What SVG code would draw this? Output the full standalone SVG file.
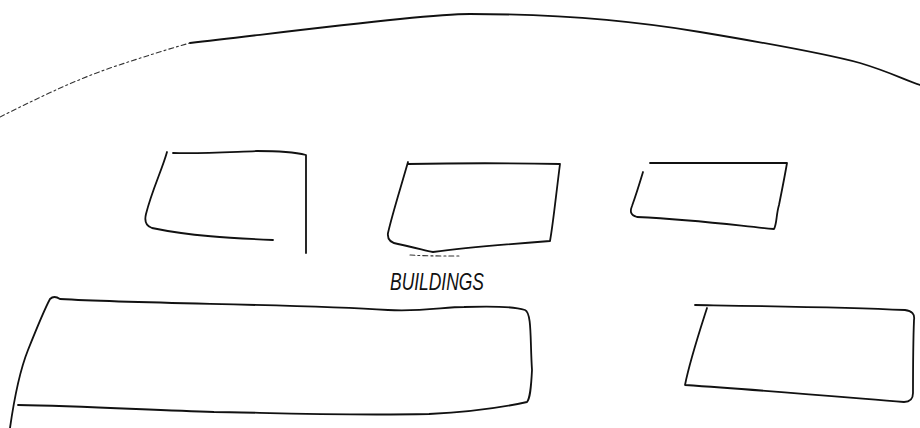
<svg xmlns="http://www.w3.org/2000/svg" width="920" height="428" viewBox="0 0 920 428">
<style>
.s{fill:none;stroke:#111;stroke-width:1.8;stroke-linecap:round;stroke-linejoin:round}
.f{fill:none;stroke:#333;stroke-width:1.1;stroke-dasharray:5 3 2 3;stroke-linecap:round}
.t{font-family:"Liberation Sans",Arial,sans-serif;font-style:italic;font-size:24px;fill:#111}
</style>
<rect width="920" height="428" fill="#fff"/>
<g id="boundary">
<path class="f" d="M0,117 C30,102 70,82 110,68 C140,58 165,50 190,43"/>
<path class="s" d="M190,43 C260,35 330,26 400,19 C430,16 450,14 470,14 C560,14 640,22 700,32 C760,42 830,55 860,63 C890,72 905,80 920,85"/>
</g>
<g id="building1">
<path class="s" d="M167,152 C162,170 152,190 146,214 C144,222 146,226 152,228 C190,236 230,238 273,240"/>
<path class="s" d="M173,153 C200,154 230,152 257,151 C280,151 298,153 306,155 C306,185 306,220 306,253"/>
</g>
<g id="building2">
<path class="s" d="M408,162 C400,190 392,215 388,233 C387,240 392,243 398,244 C412,247 424,250 433,252 C470,247 510,244 550,241 C553,225 556,195 560,164 C510,163 460,163 408,164"/>
<path class="f" d="M410,255 C425,256 440,256 460,256"/>
</g>
<g id="building3">
<path class="s" d="M650,163 C700,163 745,163 787,163 C785,175 782,190 779,205 C776,215 777,224 774,229 C740,226 700,220 637,217 C630,215 630,211 632,206 C636,195 640,182 643,172"/>
</g>
<g id="building4">
<path class="s" d="M10,428 C14,400 20,370 28,350 C36,330 44,310 50,299 C53,296 57,297 60,299 C150,304 290,304 388,310 C420,312 445,307 464,307 C490,306 515,307 525,310 C532,313 530,340 532,370 C531,390 530,398 527,402 C500,408 470,412 429,414 C330,416 250,412 214,412 C150,410 80,406 18,405"/>
</g>
<g id="building5">
<path class="s" d="M695,305 C760,306 840,307 905,310 C912,311 915,314 914,320 C913,345 913,375 913,393 C913,400 909,402 904,402 C830,396 760,390 685,385 C690,360 700,330 707,308"/>
</g>
<g id="labels">
<text class="t" x="390" y="290" textLength="94" lengthAdjust="spacingAndGlyphs">BUILDINGS</text>
</g>
</svg>
